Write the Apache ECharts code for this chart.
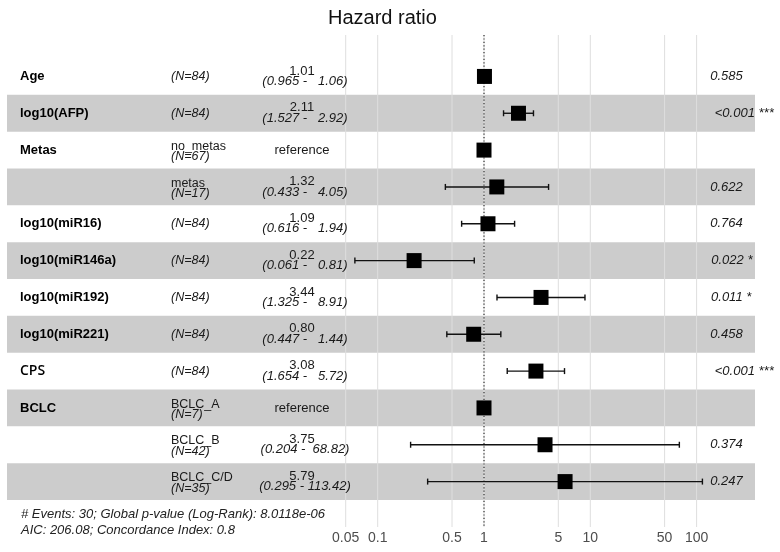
<!DOCTYPE html>
<html><head><meta charset="utf-8">
<script src="https://cdn.jsdelivr.net/npm/echarts@6/dist/echarts.min.js"></script>
<style>html,body{margin:0;padding:0;background:#fff}#c{width:780px;height:552px}</style>
</head><body><div id="c"></div>
<script>
// ---- data ----
const varNames = ['Age','log10(AFP)','Metas','','log10(miR16)','log10(miR146a)','log10(miR192)','log10(miR221)','CPS','BCLC','',''];
const levels   = ['','','no_metas','metas','','','','','','BCLC_A','BCLC_B','BCLC_C/D'];
const nLabels  = ['(N=84)','(N=84)','(N=67)','(N=17)','(N=84)','(N=84)','(N=84)','(N=84)','(N=84)','(N=7)','(N=42)','(N=35)'];
const hr       = [1.01, 2.11, 1, 1.32, 1.09, 0.22, 3.44, 0.80, 3.08, 1, 3.75, 5.79];
const isRef    = [false,false,true,false,false,false,false,false,false,true,false,false];
const ciLow    = [0.965, 1.527, null, 0.433, 0.616, 0.061, 1.325, 0.447, 1.654, null, 0.204, 0.295];
const ciHigh   = [1.06, 2.92, null, 4.05, 1.94, 0.81, 8.91, 1.44, 5.72, null, 68.82, 113.42];
const pValues  = ['0.585','<0.001','','0.622','0.764','0.022','0.011','0.458','<0.001','','0.374','0.247'];
const pStars   = ['','***','','','','*','*','','***','','',''];
const tickValues = [0.05, 0.1, 0.5, 1, 5, 10, 50, 100];
const footer1 = '# Events: 30; Global p-value (Log-Rank): 8.0118e-06';
const footer2 = 'AIC: 206.08; Concordance Index: 0.8';

// derived labels
const estLabels = hr.map((v,i) => isRef[i] ? 'reference' : v.toFixed(2));
const ciLabels = ciLow.map((lo,i) => lo == null ? '' : '(' + lo.toFixed(3) + ' - ' + ciHigh[i].toFixed(2).padStart(6, ' ') + ')');
const pLabels = pValues.map((p,i) => p ? p + ' ' + pStars[i] : '');
const rowIdx = hr.map((_, i) => i + 1);

// ---- layout ----
const X_MIN = Math.pow(10, (7 - 484) / 106.3);
const X_MAX = Math.pow(10, (755 - 484) / 106.3);
const Y_MIN = -0.125, Y_MAX = 13.233;
const FONT = '"Liberation Sans", Arial, sans-serif';
const measureCtx = document.createElement('canvas').getContext('2d');
function textWidth(t, font) { measureCtx.font = font; return measureCtx.measureText(t).width; }

const chart = echarts.init(document.getElementById('c'), null, {renderer: 'canvas'});

function rowY(api, r) { return api.coord([1, r])[1]; }

const option = {
  backgroundColor: '#fff',
  animation: false,
  title: {
    text: 'Hazard ratio', left: 323, top: 3,
    textStyle: {fontFamily: FONT, fontSize: 20, fontWeight: 'normal', color: '#111'}
  },
  grid: {left: 7, right: 25, top: 35, bottom: 25, containLabel: false},
  xAxis: {
    type: 'log', logBase: 10, min: X_MIN, max: X_MAX,
    axisLine: {show: false}, axisTick: {show: false}, splitLine: {show: false},
    axisLabel: {
      customValues: tickValues, color: '#4d4d4d', fontSize: 14, fontFamily: FONT, margin: 4,
      formatter: v => String(+Number(v).toPrecision(6))
    }
  },
  yAxis: {type: 'value', inverse: true, min: Y_MIN, max: Y_MAX, show: false},
  graphic: [
    {type: 'text', left: 21, top: 508, style: {text: footer1, fontFamily: FONT, fontSize: 13, fontStyle: 'italic', fill: '#222'}},
    {type: 'text', left: 21, top: 524, style: {text: footer2, fontFamily: FONT, fontSize: 13, fontStyle: 'italic', fill: '#222'}}
  ],
  series: [
    { // shaded bands on alternate rows
      type: 'custom', z: 1, silent: true,
      data: rowIdx.filter(r => r % 2 === 0).map(r => [1, r]),
      encode: {x: 0, y: 1},
      renderItem(params, api) {
        const r = api.value(1), cs = params.coordSys;
        const y0 = rowY(api, r - 0.5), y1 = rowY(api, r + 0.5);
        return {type: 'rect', shape: {x: cs.x, y: Math.min(y0, y1), width: cs.width, height: Math.abs(y1 - y0)},
                style: {fill: 'rgba(0,0,0,0.2)'}};
      }
    },
    { // vertical grid lines at tick values
      type: 'custom', z: 2, silent: true,
      data: tickValues.map(v => [v, 1]),
      encode: {x: 0, y: 1},
      renderItem(params, api) {
        const v = api.value(0);
        const p0 = api.coord([v, Y_MIN]), p1 = api.coord([v, Y_MAX]);
        return {type: 'line', shape: {x1: p0[0], y1: p0[1], x2: p1[0], y2: p1[1]},
                style: {stroke: '#dedede', lineWidth: 1}};
      }
    },
    { // reference dotted line at HR = 1
      type: 'custom', z: 3, silent: true,
      data: [[1, 1]],
      encode: {x: 0, y: 1},
      renderItem(params, api) {
        const p0 = api.coord([1, Y_MIN]), p1 = api.coord([1, Y_MAX]);
        return {type: 'line', shape: {x1: p0[0], y1: p0[1], x2: p1[0], y2: p1[1]},
                style: {stroke: '#333', lineWidth: 1.2, lineDash: [1.2, 2.2]}};
      }
    },
    { // table text
      type: 'custom', z: 4, silent: true,
      data: rowIdx.map(r => [1, r]),
      encode: {x: 0, y: 1},
      renderItem(params, api) {
        const i = params.dataIndex, r = api.value(1);
        const yc = rowY(api, r);
        const ch = [];
        const txt = (x, y, text, o) => ch.push({type: 'text', style: Object.assign({
          x, y, text, fontFamily: FONT, fontSize: 13, fill: '#1a1a1a', align: 'left', verticalAlign: 'middle'}, o)});
        if (varNames[i]) {
          if (varNames[i] === 'CPS') txt(20, yc, varNames[i], {fontFamily: '"Open Sans", sans-serif', fontWeight: 600, fontSize: 14, fill: '#000'});
          else txt(20, yc, varNames[i], {fontWeight: 'bold', fontSize: 13, fill: '#000'});
        }
        if (levels[i]) {
          txt(171, yc - 3.8, levels[i], {fontSize: 12.5});
          txt(171, yc + 6.5, nLabels[i], {fontSize: 12.5, fontStyle: 'italic'});
        } else {
          txt(171, yc, nLabels[i], {fontSize: 12.5, fontStyle: 'italic'});
        }
        if (isRef[i]) {
          txt(302, yc, estLabels[i], {align: 'center', fontSize: 13});
        } else {
          txt(302, yc - 5.5, estLabels[i], {align: 'center', fontSize: 13});
          txt(305, yc + 5, ciLabels[i], {align: 'center', fontSize: 13, fontStyle: 'italic'});
        }
        if (pLabels[i]) {
          const w = textWidth(pLabels[i], 'italic 13px ' + FONT);
          txt(703 + 0.2 * w, yc, pLabels[i], {fontSize: 13, fontStyle: 'italic'});
        }
        return {type: 'group', children: ch};
      }
    },
    { // error bars and squares
      type: 'custom', z: 5, silent: true,
      data: hr.map((v, i) => [v, ciLow[i] == null ? v : ciLow[i], ciHigh[i] == null ? v : ciHigh[i], i + 1]),
      encode: {x: [0, 1, 2], y: 3},
      renderItem(params, api) {
        const i = params.dataIndex;
        const r = api.value(3);
        const c = api.coord([api.value(0), r]);
        const ch = [];
        if (ciLow[i] != null) {
          const lo = api.coord([api.value(1), r]), hi = api.coord([api.value(2), r]);
          const st = {stroke: '#111', lineWidth: 1.4};
          ch.push({type: 'line', shape: {x1: lo[0], y1: c[1], x2: hi[0], y2: c[1]}, style: st});
          ch.push({type: 'line', shape: {x1: lo[0], y1: c[1] - 3, x2: lo[0], y2: c[1] + 3}, style: st});
          ch.push({type: 'line', shape: {x1: hi[0], y1: c[1] - 3, x2: hi[0], y2: c[1] + 3}, style: st});
        }
        const s = 15;
        ch.push({type: 'rect', shape: {x: c[0] - s / 2, y: c[1] - s / 2, width: s, height: s}, style: {fill: '#000'}});
        return {type: 'group', children: ch};
      }
    }
  ]
};
chart.setOption(option);
</script>
</body></html>
